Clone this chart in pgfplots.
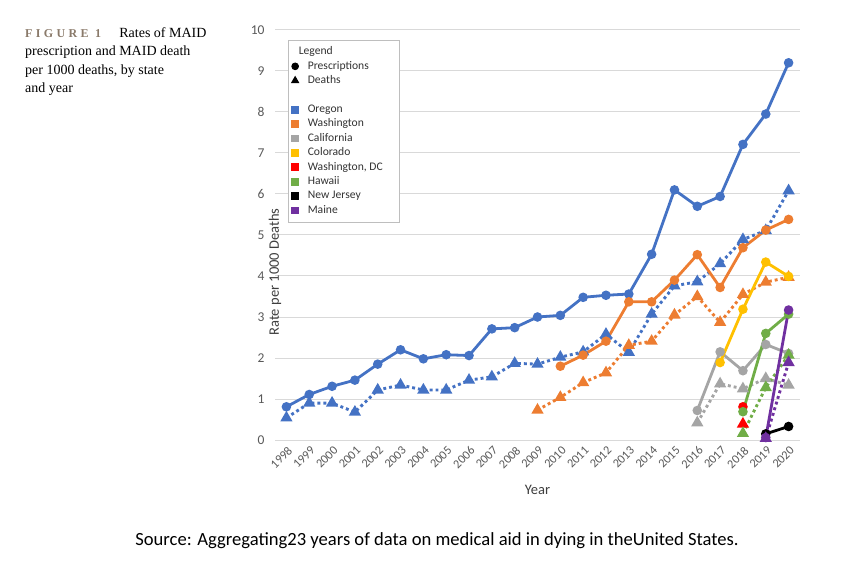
\documentclass[border=0pt]{standalone}
\usepackage{fontspec}
\usepackage{pgfplots}
\pgfplotsset{compat=1.18}
\setmainfont{Carlito}
\newfontfamily\capfont{Liberation Serif}

\definecolor{oregon}{HTML}{4472C4}
\definecolor{wash}{HTML}{ED7D31}
\definecolor{calif}{HTML}{A5A5A5}
\definecolor{colo}{HTML}{FFC000}
\definecolor{dc}{HTML}{FF0000}
\definecolor{hawaii}{HTML}{70AD47}
\definecolor{nj}{HTML}{000000}
\definecolor{maine}{HTML}{7030A0}
\definecolor{gridc}{HTML}{D9D9D9}
\definecolor{ticktxt}{HTML}{595959}
\definecolor{figc}{HTML}{8A7A6A}

\pgfplotsset{
  presc/.style={solid, line width=2.8pt, mark=*, mark size=3.3pt},
  death/.style={line width=2.9pt, line cap=butt, dash pattern=on 2.9pt off 3pt,
    mark=triangle*, mark size=4.2pt, mark options={solid}},
  onemark/.style={legend image code/.code={\draw[##1, mark repeat=1] plot coordinates {(0pt,0pt)};}},
  sq/.style={only marks, mark=square*, mark size=3.4pt, mark options={draw=#1, fill=#1}},
}

\begin{document}
\begin{tikzpicture}[x=1pt,y=1pt]
\useasboundingbox (0,0) rectangle (850,562);

% caption, upper left
\node[anchor=north west, align=left, inner sep=0pt,
      font=\capfont\fontsize{14}{18.6}\selectfont] at (25,535)
  {{\color{figc}\fontsize{12}{18.6}\selectfont\addfontfeatures{LetterSpace=28}\textbf{FIGURE 1}}\hspace{15pt}Rates of MAID\\
   prescription and MAID death\\
   per 1000 deaths, by state\\
   and year};

% source line
\node[font=\fontsize{18.6}{20}\selectfont, anchor=center] at (437,21)
  {Source: Aggregating23 years of data on medical aid in dying in theUnited States.};

\begin{axis}[
  at={(275pt,122pt)}, anchor=south west, scale only axis,
  width=525pt, height=410pt,
  xmin=1997.5, xmax=2020.5, ymin=0, ymax=10,
  xtick={1998,...,2020}, ytick={0,1,...,10},
  axis line style={draw=none}, major tick length=0pt,
  ymajorgrids, grid style={gridc, line width=1pt},
  /pgf/number format/assume math mode=true,
  /pgf/number format/set thousands separator={},
  x tick label style={rotate=45, anchor=north east, color=ticktxt,
    font=\fontsize{12.3}{12}\selectfont, yshift=-1pt},
  y tick label style={color=ticktxt, font=\fontsize{13.5}{13}\selectfont, xshift=-7pt},
  xlabel={Year}, ylabel={Rate per 1000 Deaths},
  xlabel style={at={(rel axis cs:0.5,0)}, anchor=center, yshift=-50pt,
    font=\fontsize{14.5}{14}\selectfont, color=ticktxt!70!black},
  ylabel style={at={(rel axis cs:0,0.5)}, anchor=center, xshift=-37pt,
    font=\fontsize{14.5}{14}\selectfont, color=ticktxt!70!black},
  legend style={at={(rel axis cs:0.025,0.976)}, anchor=north west,
    draw=gridc!70!gray, line width=0.8pt, fill=white,
    font=\fontsize{11.6}{12}\selectfont, text=black!80,
    nodes={inner sep=0pt, text height=8.6pt, text depth=2.8pt},
    row sep=3pt, column sep=9pt,
    inner xsep=3pt, inner ysep=6pt},
  legend cell align=left,
]

% Oregon
\addplot[presc, color=oregon, forget plot] coordinates {
  (1998,0.81) (1999,1.11) (2000,1.31) (2001,1.46) (2002,1.85) (2003,2.20)
  (2004,1.98) (2005,2.08) (2006,2.06) (2007,2.71) (2008,2.74) (2009,3.00)
  (2010,3.04) (2011,3.48) (2012,3.53) (2013,3.56) (2014,4.53) (2015,6.10)
  (2016,5.70) (2017,5.94) (2018,7.21) (2019,7.95) (2020,9.20)};
\addplot[death, color=oregon, forget plot] coordinates {
  (1998,0.54) (1999,0.90) (2000,0.90) (2001,0.68) (2002,1.22) (2003,1.34)
  (2004,1.22) (2005,1.22) (2006,1.46) (2007,1.54) (2008,1.87) (2009,1.85)
  (2010,2.02) (2011,2.15) (2012,2.58) (2013,2.14) (2014,3.07) (2015,3.76)
  (2016,3.86) (2017,4.30) (2018,4.89) (2019,5.11) (2020,6.08)};

% Washington
\addplot[presc, color=wash, forget plot] coordinates {
  (2010,1.80) (2011,2.07) (2012,2.41) (2013,3.37) (2014,3.37) (2015,3.90)
  (2016,4.52) (2017,3.72) (2018,4.69) (2019,5.12) (2020,5.38)};
\addplot[death, color=wash, forget plot] coordinates {
  (2009,0.73) (2010,1.04) (2011,1.40) (2012,1.64) (2013,2.31) (2014,2.41)
  (2015,3.05) (2016,3.50) (2017,2.87) (2018,3.55) (2019,3.85) (2020,3.97)};

% California
\addplot[presc, color=calif, forget plot] coordinates {
  (2016,0.72) (2017,2.15) (2018,1.69) (2019,2.33) (2020,2.11)};
\addplot[death, color=calif, forget plot] coordinates {
  (2016,0.42) (2017,1.37) (2018,1.25) (2019,1.50) (2020,1.34)};

% Colorado
\addplot[presc, color=colo, forget plot] coordinates {
  (2017,1.89) (2018,3.19) (2019,4.34) (2020,3.99)};

% Washington, DC
\addplot[presc, color=dc, forget plot] coordinates {(2018,0.81)};
\addplot[death, color=dc, forget plot] coordinates {(2018,0.39)};

% Hawaii
\addplot[presc, color=hawaii, forget plot] coordinates {
  (2018,0.69) (2019,2.60) (2020,3.07)};
\addplot[death, color=hawaii, forget plot] coordinates {
  (2018,0.16) (2019,1.28) (2020,2.07)};

% New Jersey
\addplot[presc, color=nj, forget plot] coordinates {
  (2019,0.15) (2020,0.33)};

% Maine
\addplot[presc, color=maine, forget plot] coordinates {
  (2019,0.06) (2020,3.17)};
\addplot[death, color=maine, forget plot] coordinates {
  (2019,0.04) (2020,1.89)};

% legend
\addlegendimage{empty legend}
\addlegendentry{\hspace*{-9pt}Legend}
\addlegendimage{onemark, only marks, mark=*, mark size=3.4pt, black}
\addlegendentry{Prescriptions}
\addlegendimage{onemark, only marks, mark=triangle*, mark size=4.2pt, black}
\addlegendentry{Deaths}
\addlegendimage{empty legend}
\addlegendentry{}
\addlegendimage{onemark, sq=oregon}   \addlegendentry{Oregon}
\addlegendimage{onemark, sq=wash}     \addlegendentry{Washington}
\addlegendimage{onemark, sq=calif}    \addlegendentry{California}
\addlegendimage{onemark, sq=colo}     \addlegendentry{Colorado}
\addlegendimage{onemark, sq=dc}       \addlegendentry{Washington, DC\hspace*{14pt}}
\addlegendimage{onemark, sq=hawaii}   \addlegendentry{Hawaii}
\addlegendimage{onemark, sq=nj}       \addlegendentry{New Jersey}
\addlegendimage{onemark, sq=maine}    \addlegendentry{Maine}
\end{axis}
\end{tikzpicture}
\end{document}
